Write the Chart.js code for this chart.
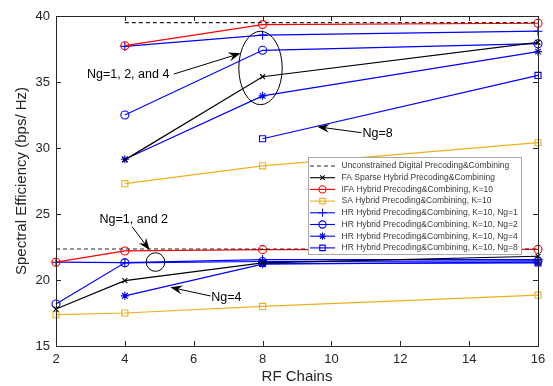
<!DOCTYPE html>
<html>
<head>
<meta charset="utf-8">
<script src="https://cdn.jsdelivr.net/npm/chart.js@4.4.1/dist/chart.umd.min.js"></script>
<style>
  html, body { margin: 0; padding: 0; background: #fff; }
  #wrap { width: 553px; height: 386px; }
</style>
</head>
<body>
<div id="wrap"><canvas id="seChart" width="553" height="386"></canvas></div>
<script>
// x values (number of RF chains)
var rfChains = [2, 4, 8, 16];

// upper group of curves
var unconstrainedHigh = [null, 39.5, 39.5, 39.5];
var faSparseHigh      = [null, 29.1, 35.4, 38.0];
var ifaHigh           = [null, 37.75, 39.35, 39.45];
var saHigh            = [null, 27.3, 28.65, 30.4];
var hrNg1High         = [null, 37.7, 38.55, 38.85];
var hrNg2High         = [null, 32.5, 37.4, 37.9];
var hrNg4High         = [null, 29.15, 33.95, 37.3];
var hrNg8High         = [null, null, 30.7, 35.5];

// lower group of curves
var unconstrainedLow = [22.35, 22.35, 22.35, 22.35];
var faSparseLow      = [17.8, 19.95, 21.3, 21.8];
var ifaLow           = [21.35, 22.2, 22.3, 22.32];
var saLow            = [17.37, 17.5, 18.0, 18.85];
var hrNg1Low         = [21.35, 21.32, 21.55, 21.55];
var hrNg2Low         = [18.18, 21.3, 21.4, 21.45];
var hrNg4Low         = [null, 18.8, 21.2, 21.35];
var hrNg8Low         = [null, null, 21.25, 21.3];

var seriesNames = [
  "Unconstrained Digital Precoding&Combining",
  "FA Sparse Hybrid Precoding&Combining",
  "IFA Hybrid Precoding&Combining, K=10",
  "SA Hybrid Precoding&Combining, K=10",
  "HR Hybrid Precoding&Combining, K=10, Ng=1",
  "HR Hybrid Precoding&Combining, K=10, Ng=2",
  "HR Hybrid Precoding&Combining, K=10, Ng=4",
  "HR Hybrid Precoding&Combining, K=10, Ng=8"
];
var highSeries = [unconstrainedHigh, faSparseHigh, ifaHigh, saHigh, hrNg1High, hrNg2High, hrNg4High, hrNg8High];
var lowSeries  = [unconstrainedLow, faSparseLow, ifaLow, saLow, hrNg1Low, hrNg2Low, hrNg4Low, hrNg8Low];

var xTicks = [2, 4, 6, 8, 10, 12, 14, 16];
var yTicks = [15, 20, 25, 30, 35, 40];

// look of each series (matlab-ish)
var seriesStyle = [
  {color: '#262626', dash: [4, 3], point: false, r: 0},
  {color: '#000000', point: 'crossRot', r: 3.5},
  {color: '#ff0000', point: 'circle', r: 4},
  {color: '#edb120', point: 'rect', r: 4.3},
  {color: '#0000ff', point: 'cross', r: 4.5},
  {color: '#0000ff', point: 'circle', r: 4},
  {color: '#0000ff', point: 'star', r: 4},
  {color: '#0000ff', point: 'rect', r: 4.3}
];

var fontFam = "'Liberation Sans', Arial, sans-serif";
Chart.defaults.font.family = fontFam;
Chart.defaults.color = '#262626';

function toPoints(vals) {
  return rfChains.map(function(x, i) { return {x: x, y: vals[i]}; });
}

function makeSet(vals, i, label) {
  var s = seriesStyle[i];
  return {
    label: label,
    data: toPoints(vals),
    borderColor: s.color,
    backgroundColor: 'rgba(0,0,0,0)',
    borderWidth: 1.2,
    borderDash: s.dash || [],
    pointStyle: s.point,
    pointRadius: s.r,
    pointBorderColor: s.color,
    pointBackgroundColor: 'rgba(0,0,0,0)',
    pointBorderWidth: 1.1,
    tension: 0,
    spanGaps: false,
    clip: false
  };
}

var datasets = [];
highSeries.forEach(function(v, i) { datasets.push(makeSet(v, i, seriesNames[i])); });
lowSeries.forEach(function(v, i) { datasets.push(makeSet(v, i, seriesNames[i] + ' ')); });

// box + inward tick marks on all four sides
var boxPlugin = {
  id: 'box',
  afterDraw: function(chart) {
    var ctx = chart.ctx, a = chart.chartArea, sx = chart.scales.x, sy = chart.scales.y;
    ctx.save();
    ctx.strokeStyle = '#262626';
    ctx.lineWidth = 1;
    ctx.strokeRect(Math.round(a.left) + 0.5, Math.round(a.top) + 0.5, Math.round(a.right - a.left), Math.round(a.bottom - a.top));
    ctx.beginPath();
    xTicks.forEach(function(v) {
      var px = Math.round(sx.getPixelForValue(v)) + 0.5;
      ctx.moveTo(px, a.bottom); ctx.lineTo(px, a.bottom - 5);
      ctx.moveTo(px, a.top); ctx.lineTo(px, a.top + 5);
    });
    yTicks.forEach(function(v) {
      var py = Math.round(sy.getPixelForValue(v)) + 0.5;
      ctx.moveTo(a.left, py); ctx.lineTo(a.left + 5, py);
      ctx.moveTo(a.right, py); ctx.lineTo(a.right - 5, py);
    });
    ctx.stroke();
    ctx.restore();
  }
};

function drawArrow(ctx, x1, y1, x2, y2) {
  var ang = Math.atan2(y2 - y1, x2 - x1), len = 12, w = 4.5;
  ctx.beginPath();
  ctx.moveTo(x1, y1);
  ctx.lineTo(x2 - Math.cos(ang) * len * 0.6, y2 - Math.sin(ang) * len * 0.6);
  ctx.stroke();
  ctx.save();
  ctx.translate(x2, y2);
  ctx.rotate(ang);
  ctx.beginPath();
  ctx.moveTo(0, 0);
  ctx.lineTo(-len, -w);
  ctx.lineTo(-len * 0.65, 0);
  ctx.lineTo(-len, w);
  ctx.closePath();
  ctx.fill();
  ctx.restore();
}

// text, arrows and ellipses put on the figure
var notePlugin = {
  id: 'notes',
  afterDraw: function(chart) {
    var ctx = chart.ctx, sx = chart.scales.x, sy = chart.scales.y;
    function X(v) { return sx.getPixelForValue(v); }
    function Y(v) { return sy.getPixelForValue(v); }
    ctx.save();
    ctx.strokeStyle = '#000';
    ctx.fillStyle = '#000';
    ctx.lineWidth = 1;
    ctx.font = "12.5px " + fontFam;
    ctx.textBaseline = 'middle';
    ctx.textAlign = 'left';

    ctx.beginPath();
    ctx.ellipse(X(7.94), Y(36.06), 21.7, 36.7, 0, 0, Math.PI * 2);
    ctx.stroke();
    ctx.beginPath();
    ctx.arc(X(4.89), Y(21.36), 9.3, 0, Math.PI * 2);
    ctx.stroke();

    ctx.fillText('Ng=1, 2, and 4', X(2.9), Y(35.53));
    drawArrow(ctx, X(5.42), Y(35.6), X(7.36), Y(37.17));

    ctx.fillText('Ng=8', X(10.9), Y(31.1));
    drawArrow(ctx, X(10.87), Y(31.16), X(9.59), Y(31.61));

    ctx.textAlign = 'center';
    ctx.fillText('Ng=1, and 2', X(4.26), Y(24.55));
    drawArrow(ctx, X(4.21), Y(24.04), X(4.72), Y(22.27));

    ctx.textAlign = 'left';
    ctx.fillText('Ng=4', X(6.51), Y(18.69));
    drawArrow(ctx, X(6.49), Y(18.79), X(5.32), Y(19.45));
    ctx.restore();
  }
};

// matlab style legend box inside the axes
var legendPlugin = {
  id: 'boxLegend',
  afterDraw: function(chart) {
    var ctx = chart.ctx;
    var bx = 308, by = 157, bw = 213, bh = 97, row = 11.7, y0 = 166;
    ctx.save();
    ctx.fillStyle = '#fff';
    ctx.fillRect(bx, by, bw, bh);
    ctx.strokeStyle = '#a8a8a8';
    ctx.lineWidth = 1;
    ctx.strokeRect(bx + 0.5, by + 0.5, bw, bh);
    ctx.font = "8.5px " + fontFam;
    ctx.textBaseline = 'middle';
    ctx.textAlign = 'left';
    seriesNames.forEach(function(name, i) {
      var s = seriesStyle[i], y = y0 + i * row;
      ctx.strokeStyle = s.color;
      ctx.lineWidth = 1.1;
      ctx.setLineDash(s.dash || []);
      ctx.beginPath();
      ctx.moveTo(310, y); ctx.lineTo(335, y);
      ctx.stroke();
      ctx.setLineDash([]);
      if (s.point) {
        ctx.fillStyle = 'rgba(0,0,0,0)';
        Chart.helpers.drawPoint(ctx, {pointStyle: s.point, radius: s.r * 0.9, rotation: 0, borderWidth: 1}, 322.5, y);
      }
      ctx.fillStyle = '#3a3a3a';
      ctx.fillText(name, 341.5, y);
    });
    ctx.restore();
  }
};

var seChart = new Chart(document.getElementById('seChart'), {
  type: 'line',
  data: { datasets: datasets },
  options: {
    responsive: false,
    animation: false,
    devicePixelRatio: 1,
    layout: { padding: { left: 0, right: 15, top: 16, bottom: 0 } },
    plugins: { legend: { display: false }, tooltip: { enabled: false } },
    scales: {
      x: {
        type: 'linear',
        min: 2,
        max: 16,
        afterBuildTicks: function(scale) { scale.ticks = xTicks.map(function(v) { return {value: v}; }); },
        afterFit: function(scale) { scale.height = 40; },
        grid: { display: false, drawTicks: false },
        border: { display: false },
        ticks: { font: { size: 13 }, color: '#262626', padding: 6, maxRotation: 0 },
        title: { display: true, text: 'RF Chains', font: { size: 15 }, color: '#262626', padding: { top: 0, bottom: 0 } }
      },
      y: {
        type: 'linear',
        min: 15,
        max: 40,
        afterBuildTicks: function(scale) { scale.ticks = yTicks.map(function(v) { return {value: v}; }); },
        afterFit: function(scale) { scale.width = 56; },
        grid: { display: false, drawTicks: false },
        border: { display: false },
        ticks: { font: { size: 13 }, color: '#262626', padding: 6 },
        title: { display: true, text: 'Spectral Efficiency (bps/ Hz)', font: { size: 15 }, color: '#262626', padding: { top: 13, bottom: 0 } }
      }
    }
  },
  plugins: [boxPlugin, notePlugin, legendPlugin]
});
</script>
</body>
</html>
